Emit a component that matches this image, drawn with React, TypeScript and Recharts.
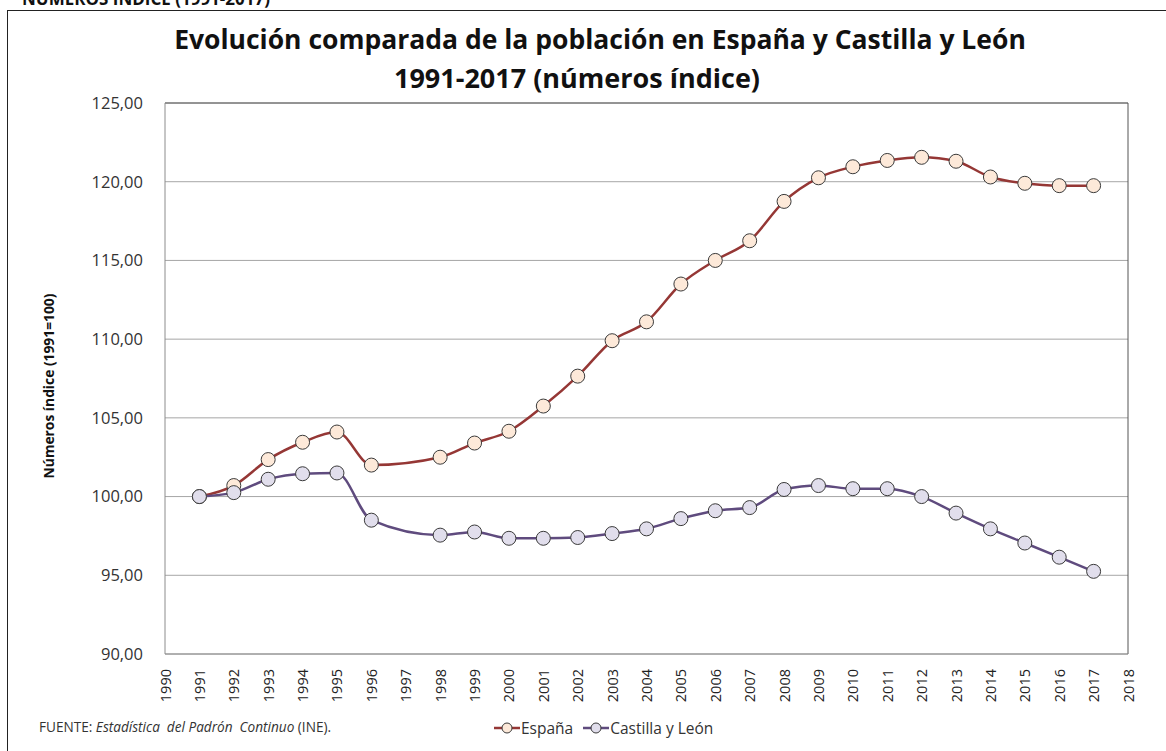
import React from 'react';
import { LineChart, Line, XAxis, YAxis, CartesianGrid, ReferenceLine, Legend } from 'recharts';

const years = [1991, 1992, 1993, 1994, 1995, 1996, 1998, 1999, 2000, 2001, 2002, 2003, 2004, 2005, 2006, 2007, 2008, 2009, 2010, 2011, 2012, 2013, 2014, 2015, 2016, 2017];
const espana = [100.0, 100.7, 102.35, 103.45, 104.1, 102.0, 102.5, 103.4, 104.15, 105.75, 107.65, 109.9, 111.1, 113.5, 115.0, 116.25, 118.75, 120.25, 120.95, 121.35, 121.55, 121.3, 120.3, 119.9, 119.75, 119.75];
const castilla = [100.0, 100.25, 101.1, 101.45, 101.5, 98.5, 97.55, 97.75, 97.35, 97.35, 97.4, 97.65, 97.95, 98.6, 99.1, 99.3, 100.45, 100.7, 100.5, 100.5, 100.0, 98.95, 97.95, 97.05, 96.15, 95.25];
const xTicks = [1990, 1991, 1992, 1993, 1994, 1995, 1996, 1997, 1998, 1999, 2000, 2001, 2002, 2003, 2004, 2005, 2006, 2007, 2008, 2009, 2010, 2011, 2012, 2013, 2014, 2015, 2016, 2017, 2018];
const yTicks = [90, 95, 100, 105, 110, 115, 120, 125];
const seriesNames = ['España', 'Castilla y León'];

const data = years.map((y, i) => ({ year: y, espana: espana[i], castilla: castilla[i] }));

const FONT = "'Open Sans', 'Noto Sans', sans-serif";
const ESP_LINE = '#953735';
const ESP_FILL = '#fde9d9';
const CYL_LINE = '#5f4b7e';
const CYL_FILL = '#e1deec';

const XTick = (props: any) => {
  const { x, y, payload } = props;
  return (
    <text
      x={0}
      y={0}
      transform={`translate(${x + 5.5},${y + 7}) rotate(-90)`}
      textAnchor="end"
      fontFamily={FONT}
      fontSize={14.5}
      fill="#222"
    >
      {payload.value}
    </text>
  );
};

const LegendContent = () => {
  const items = [
    { name: seriesNames[0], stroke: ESP_LINE, fill: ESP_FILL },
    { name: seriesNames[1], stroke: CYL_LINE, fill: CYL_FILL },
  ];
  return (
    <div style={{ display: 'flex', alignItems: 'center', fontFamily: FONT, fontSize: 15.5, color: '#333' }}>
      {items.map((it) => (
        <div key={it.name} style={{ display: 'flex', alignItems: 'center', marginRight: 10 }}>
          <svg width={26} height={14}>
            <line x1={0} y1={7} x2={26} y2={7} stroke={it.stroke} strokeWidth={2.5} />
            <circle cx={13} cy={7} r={5} fill={it.fill} stroke="#3a3a3a" strokeWidth={1} />
          </svg>
          <span style={{ marginLeft: 1 }}>{it.name}</span>
        </div>
      ))}
    </div>
  );
};

export default function App() {
  return (
    <div style={{ position: 'absolute', left: 0, top: 0, width: 1166, height: 751, overflow: 'hidden', background: '#fff' }}>
      <div style={{ position: 'absolute', left: 7, top: 10, width: 1200, height: 800, border: '1.5px solid #222', boxSizing: 'border-box' }} />
      <div style={{ position: 'absolute', left: 22, top: -13, fontFamily: FONT, fontWeight: 700, fontSize: 17, color: '#111', whiteSpace: 'nowrap' }}>
        NÚMEROS ÍNDICE (1991-2017)
      </div>
      <div style={{ position: 'absolute', left: 0, width: 1200, top: 21, textAlign: 'center', fontFamily: FONT, fontWeight: 700, fontSize: 26.5, color: '#111', whiteSpace: 'nowrap' }}>
        Evolución comparada de la población en España y Castilla y León
      </div>
      <div style={{ position: 'absolute', left: 0, width: 1154, top: 59, textAlign: 'center', fontFamily: FONT, fontWeight: 700, fontSize: 27, color: '#111', whiteSpace: 'nowrap' }}>
        1991-2017 (números índice)
      </div>
      <div style={{ position: 'absolute', left: 48, top: 386, transform: 'translate(-50%, -50%) rotate(-90deg)', fontFamily: FONT, fontWeight: 700, fontSize: 13.8, color: '#111', whiteSpace: 'nowrap' }}>
        Números índice (1991=100)
      </div>
      <div style={{ position: 'absolute', left: 39, top: 717, fontFamily: FONT, fontSize: 13.6, color: '#333', whiteSpace: 'nowrap' }}>
        FUENTE: <i>Estadística&nbsp; del Padrón&nbsp; Continuo</i> (INE).
      </div>
      <LineChart width={1166} height={751} data={data} margin={{ top: 103, right: 38, bottom: 37, left: 0 }}>
        <CartesianGrid horizontal={true} vertical={false} stroke="#a6a6a6" strokeWidth={1} />
        <XAxis
          dataKey="year"
          type="number"
          domain={[1990, 2018]}
          ticks={xTicks}
          interval={0}
          height={60}
          tick={<XTick />}
          tickLine={false}
          axisLine={{ stroke: '#8c8c8c' }}
          allowDataOverflow
        />
        <YAxis
          type="number"
          domain={[90, 125]}
          ticks={yTicks}
          interval={0}
          width={165}
          tickLine={false}
          axisLine={{ stroke: '#8c8c8c' }}
          tickFormatter={(v: number) => v.toFixed(2).replace('.', ',')}
          tick={{ fontFamily: FONT, fontSize: 16.5, fill: '#333' }}
          tickMargin={16}
        />
        <ReferenceLine x={2018} stroke="#555" strokeWidth={1} />
        <ReferenceLine y={125} stroke="#555" strokeWidth={1} />
        <Line
          type="monotone"
          dataKey="espana"
          name={seriesNames[0]}
          stroke={ESP_LINE}
          strokeWidth={2.5}
          dot={{ r: 7, fill: ESP_FILL, stroke: '#3a3a3a', strokeWidth: 1 }}
          isAnimationActive={false}
        />
        <Line
          type="monotone"
          dataKey="castilla"
          name={seriesNames[1]}
          stroke={CYL_LINE}
          strokeWidth={2.5}
          dot={{ r: 7, fill: CYL_FILL, stroke: '#3a3a3a', strokeWidth: 1 }}
          isAnimationActive={false}
        />
        <Legend
          layout="horizontal"
          verticalAlign="middle"
          align="center"
          content={<LegendContent />}
          wrapperStyle={{ left: 494, top: 717, width: 320, height: 22 }}
        />
      </LineChart>
    </div>
  );
}
